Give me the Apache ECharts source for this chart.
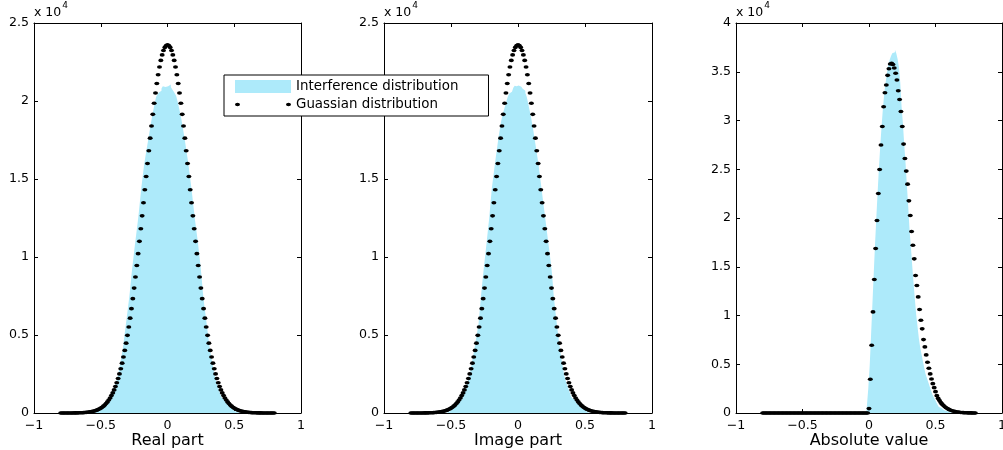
<!DOCTYPE html>
<html>
<head>
<meta charset="utf-8">
<script src="https://cdn.jsdelivr.net/npm/echarts@6/dist/echarts.min.js"></script>
<style>
  html, body { margin: 0; padding: 0; background: #fff; }
  #chart { width: 1003px; height: 450px; }
</style>
</head>
<body>
<div id="chart"></div>
<script>
// Histogram bins: centres from -0.80 to 0.80 in steps of 0.01 (161 bins)
const binStart = -0.8;
const binStep = 0.01;

const xTicks = [-1, -0.5, 0, 0.5, 1];
const xTitles = ['Real part', 'Image part', 'Absolute value'];
const yMax = [25000, 25000, 40000];

// Counts of the interference samples per bin, real part
const realCounts = [
  0,0,0,0,0,0,0,0,0,0,0,0,0,0,0,0,0,0,0,0,0,0,0,0,0,
  5,20,60,130,190,260,300,400,500,600,700,800,910,1010,1230,1490,1750,2000,2260,2680,
  3140,3610,4090,4780,5460,6140,6820,7530,8380,9230,9970,10710,11410,12100,12830,13690,
  14500,15220,15930,16460,16980,17490,18010,18530,19030,19460,19900,20280,20420,20550,
  20650,20800,20950,20900,21000,
  20950,
  20980,21050,20900,20750,20620,20480,20320,19980,19610,19220,18780,18270,17750,17190,
  16620,16060,15380,14700,13980,13200,12440,11780,11120,10390,9620,8750,7740,6960,6280,
  5590,4910,4230,3700,3255,2805,2355,2050,1770,1485,1200,990,885,780,680,570,470,370,290,
  220,160,100,60,25,8,2,
  0,0,0,0,0,0,0,0,0,0,0,0,0,0,0,0,0,0,0,0,0,0,0,0,0
];

// Counts per bin, imaginary part
const imagCounts = [
  0,0,0,0,0,0,0,0,0,0,0,0,0,0,0,0,0,0,0,0,0,0,0,0,0,
  2,8,25,64,130,195,260,330,395,500,600,700,800,910,1010,1260,1510,1770,2030,2280,
  2730,3190,3650,4120,4640,5160,5680,6640,7610,8470,9310,10080,10860,11680,12490,13480,
  14420,15110,15790,16440,17070,17700,18220,18730,19140,19430,19730,20030,20300,20480,
  20600,20700,20850,20980,20950,
  21000,
  21000,20920,20880,20780,20660,20520,20270,19880,19470,19070,18580,18070,17500,16970,
  16400,15800,15110,14420,13740,13050,12370,11690,11000,10320,9630,8810,7670,6820,6040,
  5320,4640,3970,3450,2930,2410,2100,1850,1590,1335,1080,940,840,735,635,530,425,345,280,
  220,155,90,45,15,5,1,
  0,0,0,0,0,0,0,0,0,0,0,0,0,0,0,0,0,0,0,0,0,0,0,0,0
];

// Counts per bin, magnitude
const absCounts = [
  0,0,0,0,0,0,0,0,0,0,0,0,0,0,0,0,0,0,0,0,
  0,0,0,0,0,0,0,0,0,0,0,0,0,0,0,0,0,0,0,0,
  0,0,0,0,0,0,0,0,0,0,0,0,0,0,0,0,0,0,0,0,
  0,0,0,0,0,0,0,0,0,0,0,0,0,0,0,0,0,0,0,0,
  2600,4800,7800,11000,14100,17200,20000,22700,25200,27500,29500,31300,32800,33900,
  34900,35700,36200,36600,36900,37000,37250,36900,36300,35450,33900,31400,29700,27500,
  25600,23300,21150,18750,17050,15100,13300,11650,10050,8850,7640,6710,6020,5340,4650,
  4000,3590,3180,2770,2360,1950,1670,1400,1130,850,620,520,410,340,280,200,140,90,55,
  30,15,6,2,
  0,0,0,0,0,0,0,0,0,0,0,0,0,0,0
];

// Gaussian reference curve (same for real and imaginary parts)
const gaussCurve = [
  0,0,0,1,1,1,2,2,3,4,5,6,8,10,13,16,20,24,30,38,46,57,70,85,104,
  126,152,183,219,262,312,371,438,517,607,711,829,963,1116,1288,1482,1699,1941,2210,2507,
  2835,3194,3587,4014,4477,4976,5510,6081,6688,7330,8006,8714,9451,10216,11004,11813,
  12637,13473,14314,15157,15992,16815,17618,18397,19144,19852,20515,21126,21682,22175,
  22601,22956,23235,23437,23559,
  23600,
  23559,23437,23235,22956,22601,22175,21682,21126,20515,19852,19144,18397,17618,16815,
  15992,15157,14314,13473,12637,11813,11004,10216,9451,8714,8006,7330,6688,6081,5510,
  4976,4477,4014,3587,3194,2835,2507,2210,1941,1699,1482,1288,1116,963,829,711,607,517,
  438,371,312,262,219,183,152,126,
  104,85,70,57,46,38,30,24,20,16,13,10,8,6,5,4,3,2,2,1,1,1,0,0,0
];

// Reference curve for the magnitude
const magnitudeCurve = [
  0,0,0,0,0,0,0,0,0,0,0,0,0,0,0,0,0,0,0,0,
  0,0,0,0,0,0,0,0,0,0,0,0,0,0,0,0,0,0,0,0,
  0,0,0,0,0,0,0,0,0,0,0,0,0,0,0,0,0,0,0,0,
  0,0,0,0,0,0,0,0,0,0,0,0,0,0,0,0,0,0,0,0,
  450,3460,6950,10370,13690,16870,19750,22520,24980,27480,29390,31410,32850,33640,34630,
  35310,35790,35860,35740,35380,34850,34150,33050,32160,30930,29390,27580,26110,24810,
  23470,21760,20260,18620,17210,15810,14100,13070,11910,10610,9520,8630,7530,6780,5960,
  5200,4590,4010,3490,3010,2600,2190,1780,1500,1280,1080,910,770,640,540,450,370,305,
  250,205,168,136,110,89,71,57,45,36,28,22,17,13,10,8,6,5,4
];

const histograms = [realCounts, imagCounts, absCounts];
const curves = [gaussCurve, gaussCurve, magnitudeCurve];
const curveNames = ['Guassian distribution', 'Guassian distribution', 'Rayleigh distribution'];

const FONT = 'DejaVu Sans';
const BAR_COLOR = '#ADEAFA';
const grids = [
  { left: 34, top: 23, width: 267, height: 390, outerBoundsMode: 'none', containLabel: false },
  { left: 384, top: 23, width: 268, height: 390, outerBoundsMode: 'none', containLabel: false },
  { left: 736, top: 23, width: 266, height: 390, outerBoundsMode: 'none', containLabel: false }
];

function toPoints(values) {
  return values.map((v, i) => [Number((binStart + i * binStep).toFixed(2)), v]);
}

function tickText(v) {
  if (v < 0) return '\u2212' + String(Math.abs(v));
  return String(v);
}

const lineBlack = { color: '#000', width: 1 };
const xAxes = [];
const yAxes = [];
const series = [];

grids.forEach((g, i) => {
  xAxes.push({
    type: 'value', gridIndex: i, position: 'bottom',
    min: xTicks[0], max: xTicks[xTicks.length - 1], interval: 0.5,
    axisLine: { onZero: false, lineStyle: lineBlack },
    axisTick: { inside: true, length: 4, lineStyle: lineBlack },
    splitLine: { show: false },
    axisLabel: { color: '#000', fontFamily: FONT, fontSize: 12.6, margin: 6, formatter: tickText },
    name: xTitles[i], nameLocation: 'middle', nameGap: 20, nameMoveOverlap: false,
    nameTextStyle: { color: '#000', fontFamily: FONT, fontSize: 16 }
  });
  xAxes.push({
    type: 'value', gridIndex: i, position: 'top',
    min: xTicks[0], max: xTicks[xTicks.length - 1], interval: 0.5,
    axisLine: { onZero: false, lineStyle: lineBlack },
    axisTick: { inside: true, length: 4, lineStyle: lineBlack },
    splitLine: { show: false },
    axisLabel: { show: false }
  });
  yAxes.push({
    type: 'value', gridIndex: i, position: 'left',
    min: 0, max: yMax[i], interval: 5000,
    axisLine: { show: true, onZero: false, lineStyle: lineBlack },
    axisTick: { show: true, inside: true, length: 4, lineStyle: lineBlack },
    splitLine: { show: false },
    axisLabel: { color: '#000', fontFamily: FONT, fontSize: 12.6, margin: 5,
      formatter: v => String(v / 10000) },
    name: '{base|x 10}{sup|4}', nameLocation: 'end', nameGap: -2, nameMoveOverlap: false,
    nameTextStyle: {
      align: 'left', verticalAlign: 'bottom', color: '#000', fontFamily: FONT,
      rich: {
        base: { fontFamily: FONT, fontSize: 12.5, lineHeight: 24, color: '#000' },
        sup: { fontFamily: FONT, fontSize: 9, lineHeight: 10, verticalAlign: 'top', color: '#000', padding: [0, 0, 0, 1] }
      }
    }
  });
  yAxes.push({
    type: 'value', gridIndex: i, position: 'right',
    min: 0, max: yMax[i], interval: 5000,
    axisLine: { show: true, onZero: false, lineStyle: lineBlack },
    axisTick: { show: true, inside: true, length: 4, lineStyle: lineBlack },
    splitLine: { show: false },
    axisLabel: { show: false }
  });

  // histogram drawn as a filled step outline
  series.push({
    type: 'line', name: 'Interference distribution',
    xAxisIndex: 2 * i, yAxisIndex: 2 * i,
    data: toPoints(histograms[i]),
    step: 'middle', symbol: 'none', showSymbol: false,
    lineStyle: { width: 0 },
    itemStyle: { color: BAR_COLOR },
    areaStyle: { color: BAR_COLOR, opacity: 1 },
    z: 2, silent: true
  });
  // fitted density, dot markers
  series.push({
    type: 'scatter', name: curveNames[i],
    xAxisIndex: 2 * i, yAxisIndex: 2 * i,
    data: toPoints(curves[i]),
    symbol: 'circle', symbolSize: [5, 3.6],
    itemStyle: { color: '#000', opacity: 1 },
    z: 3, silent: true
  });
});

const dotPairIcon = 'path://M0 0M56 13M0 6.5A2.5 1.8 0 1 1 5 6.5A2.5 1.8 0 1 1 0 6.5ZM51 6.5A2.5 1.8 0 1 1 56 6.5A2.5 1.8 0 1 1 51 6.5Z';

const option = {
  backgroundColor: '#fff',
  animation: false,
  grid: grids,
  xAxis: xAxes,
  yAxis: yAxes,
  legend: {
    orient: 'vertical',
    left: 224, top: 75,
    padding: [5, 30, 5, 11],
    itemGap: 5,
    itemWidth: 56, itemHeight: 13,
    symbolKeepAspect: false,
    backgroundColor: '#fff',
    borderColor: '#000', borderWidth: 1,
    selectedMode: false,
    textStyle: { color: '#000', fontFamily: FONT, fontSize: 13.4 },
    data: [
      { name: 'Interference distribution', icon: 'rect', itemStyle: { color: BAR_COLOR, borderWidth: 0 } },
      { name: 'Guassian distribution', icon: dotPairIcon, itemStyle: { color: '#000', borderWidth: 0 } }
    ]
  },
  series: series
};

const chart = echarts.init(document.getElementById('chart'), null, { renderer: 'canvas' });
chart.setOption(option);
</script>
</body>
</html>
